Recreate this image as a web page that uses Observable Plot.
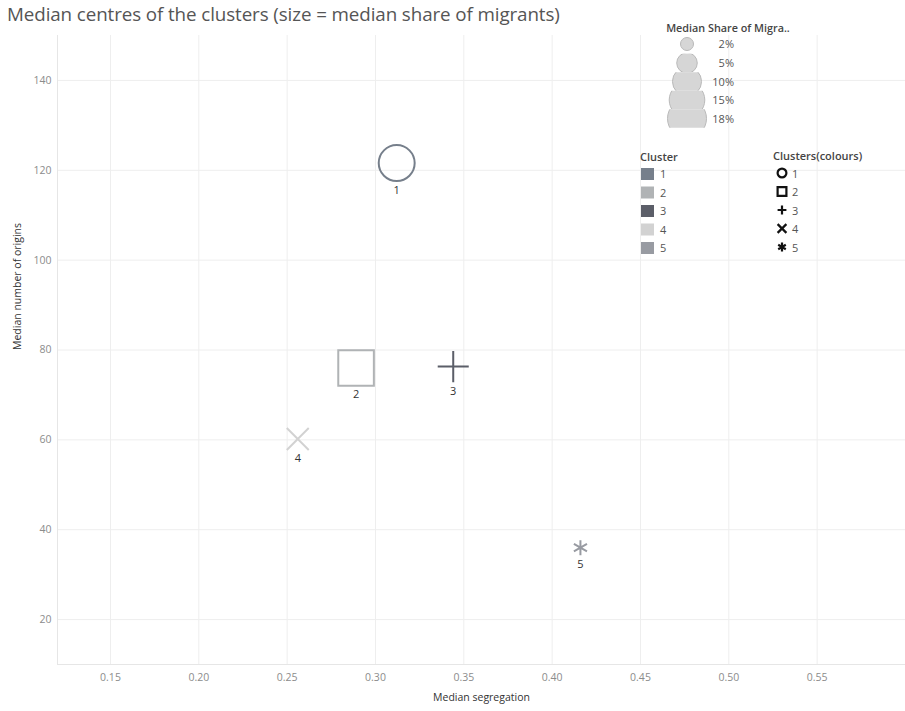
<!DOCTYPE html>
<html>
<head>
<meta charset="utf-8">
<script src="https://cdn.jsdelivr.net/npm/d3@7"></script>
<script src="https://cdn.jsdelivr.net/npm/@observablehq/plot@0.6"></script>
<style>
  html, body { margin: 0; padding: 0; background: #fff; }
  #wrap { position: relative; width: 905px; height: 711px; overflow: hidden; font-family: "Open Sans", sans-serif; }
  #title { position: absolute; left: 7px; top: 1px; font-size: 18.8px; color: #555; white-space: nowrap; letter-spacing: -0.1px; }
  #legend { position: absolute; left: 0; top: 0; pointer-events: none; }
</style>
</head>
<body>
<div id="wrap">
  <div id="chart"></div>
  <div id="title">Median centres of the clusters (size = median share of migrants)</div>
  <svg id="legend" width="905" height="711"></svg>
</div>
<script>
// ---- data ----
const clusters = ["1", "2", "3", "4", "5"];
const segregation = [0.312, 0.289, 0.344, 0.256, 0.416];
const origins = [121.6, 76.0, 76.3, 60.2, 36.0];
const shareOfMigrants = [15.3, 15.0, 11.4, 5.7, 2.7]; // percent
const clusterColours = ["#767f8b", "#b0b3b5", "#5b5e68", "#d2d2d2", "#989ba2"];
const xTicks = [0.15, 0.20, 0.25, 0.30, 0.35, 0.40, 0.45, 0.50, 0.55];
const yTicks = [20, 40, 60, 80, 100, 120, 140];
const sizeLegendValues = [2, 5, 10, 15, 18];
const sizeLegendLabels = ["2%", "5%", "10%", "15%", "18%"];

const data = clusters.map((c, i) => ({
  cluster: c, x: segregation[i], y: origins[i], share: shareOfMigrants[i]
}));

// ---- Tableau-like shapes drawn inside a box whose half-size is the radius ----
const half = size => Math.sqrt(size / Math.PI);
const symCircle = {draw(ctx, size) { const r = half(size); ctx.moveTo(r, 0); ctx.arc(0, 0, r, 0, 2 * Math.PI); }};
const symSquare = {draw(ctx, size) { const h = half(size); ctx.rect(-h, -h, 2 * h, 2 * h); }};
const symPlus = {draw(ctx, size) { const h = half(size); ctx.moveTo(-h, 0); ctx.lineTo(h, 0); ctx.moveTo(0, -h); ctx.lineTo(0, h); }};
const symTimes = {draw(ctx, size) { const h = half(size); ctx.moveTo(-h, -h); ctx.lineTo(h, h); ctx.moveTo(-h, h); ctx.lineTo(h, -h); }};
const symAsterisk = {draw(ctx, size) {
  const h = half(size), c = h * Math.cos(Math.PI / 6), s = h * Math.sin(Math.PI / 6);
  ctx.moveTo(0, -h); ctx.lineTo(0, h);
  ctx.moveTo(-c, -s); ctx.lineTo(c, s);
  ctx.moveTo(-c, s); ctx.lineTo(c, -s);
}};
const shapes = [symCircle, symSquare, symPlus, symTimes, symAsterisk];

const rDomain = [0, 18], rRange = [0, 19.5];
const rScale = d3.scaleSqrt().domain(rDomain).range(rRange);

const labelMarks = data.map(d => Plot.text([d], {
  x: "x", y: "y", text: "cluster", dy: rScale(d.share) + 9,
  fill: "#333", fontSize: 11
}));

const chart = Plot.plot({
  width: 905,
  height: 711,
  marginLeft: 57,
  marginRight: 0,
  marginTop: 35,
  marginBottom: 47,
  style: {fontFamily: "Open Sans, sans-serif", fontSize: "10.5px", color: "#8c8c8c", background: "transparent", overflow: "visible"},
  x: {domain: [0.12, 0.60], ticks: xTicks, tickFormat: d3.format(".2f"), tickSize: 0, tickPadding: 9, label: null},
  y: {domain: [10, 150], ticks: yTicks, tickSize: 0, tickPadding: 6, label: null},
  r: {type: "sqrt", domain: rDomain, range: rRange},
  symbol: {domain: clusters, range: shapes},
  color: {domain: clusters, range: clusterColours},
  marks: [
    Plot.ruleX(xTicks, {stroke: "#eeeeee"}),
    Plot.ruleY(yTicks, {stroke: "#eeeeee"}),
    Plot.ruleX([0.12], {stroke: "#e6e6e6"}),
    Plot.ruleY([10], {stroke: "#e6e6e6"}),
    Plot.dot(data, {x: "x", y: "y", r: "share", symbol: "cluster", stroke: "cluster", fill: "none", strokeWidth: 2}),
    ...labelMarks,
    Plot.text(["Median segregation"], {frameAnchor: "bottom", dy: 36, fill: "#333", fontSize: 10.5}),
    Plot.text(["Median number of origins"], {frameAnchor: "left", dx: -40, rotate: -90, fill: "#333", fontSize: 10.5})
  ]
});
document.getElementById("chart").appendChild(chart);

// ---- legends (overlay) ----
const lg = d3.select("#legend").style("font-family", "Open Sans, sans-serif");
const rr = chart.scale("r");

// size legend
lg.append("text").attr("x", 728).attr("y", 32).attr("text-anchor", "middle")
  .attr("font-size", 10.8).attr("font-weight", 600).attr("fill", "#444").text("Median Share of Migra..");
const rowY = [44, 63, 81.5, 100, 118.5];
sizeLegendValues.forEach((v, i) => {
  const id = "clip" + i;
  lg.append("clipPath").attr("id", id).append("rect")
    .attr("x", 650).attr("y", rowY[i] - 9.3).attr("width", 80).attr("height", 18.6);
  lg.append("circle").attr("cx", 687).attr("cy", rowY[i]).attr("r", rr.apply(v))
    .attr("fill", "#d6d6d6").attr("stroke", "#b9b9b9").attr("stroke-width", 1)
    .attr("clip-path", `url(#${id})`);
  lg.append("text").attr("x", 734).attr("y", rowY[i] + 4).attr("text-anchor", "end")
    .attr("font-size", 11).attr("fill", "#555").text(sizeLegendLabels[i]);
});

// colour legend
lg.append("text").attr("x", 640).attr("y", 161).attr("font-size", 11).attr("font-weight", 600)
  .attr("fill", "#444").text("Cluster");
const legRow = [174, 192.5, 211, 229.5, 248];
clusters.forEach((c, i) => {
  lg.append("rect").attr("x", 641).attr("y", legRow[i] - 6).attr("width", 13).attr("height", 12)
    .attr("fill", chart.scale("color").apply(c));
  lg.append("text").attr("x", 660).attr("y", legRow[i] + 4).attr("font-size", 11).attr("fill", "#555").text(c);
});

// shape legend
lg.append("text").attr("x", 773).attr("y", 160).attr("font-size", 11).attr("font-weight", 600)
  .attr("fill", "#444").text("Clusters(colours)");
clusters.forEach((c, i) => {
  const sym = chart.scale("symbol").apply(c);
  lg.append("path").attr("transform", `translate(782,${legRow[i] - 1})`)
    .attr("d", d3.symbol(sym, Math.PI * 4.4 * 4.4)())
    .attr("fill", "none").attr("stroke", "#111").attr("stroke-width", 2.2);
  lg.append("text").attr("x", 792).attr("y", legRow[i] + 3.5).attr("font-size", 11).attr("fill", "#555").text(c);
});
</script>
</body>
</html>
